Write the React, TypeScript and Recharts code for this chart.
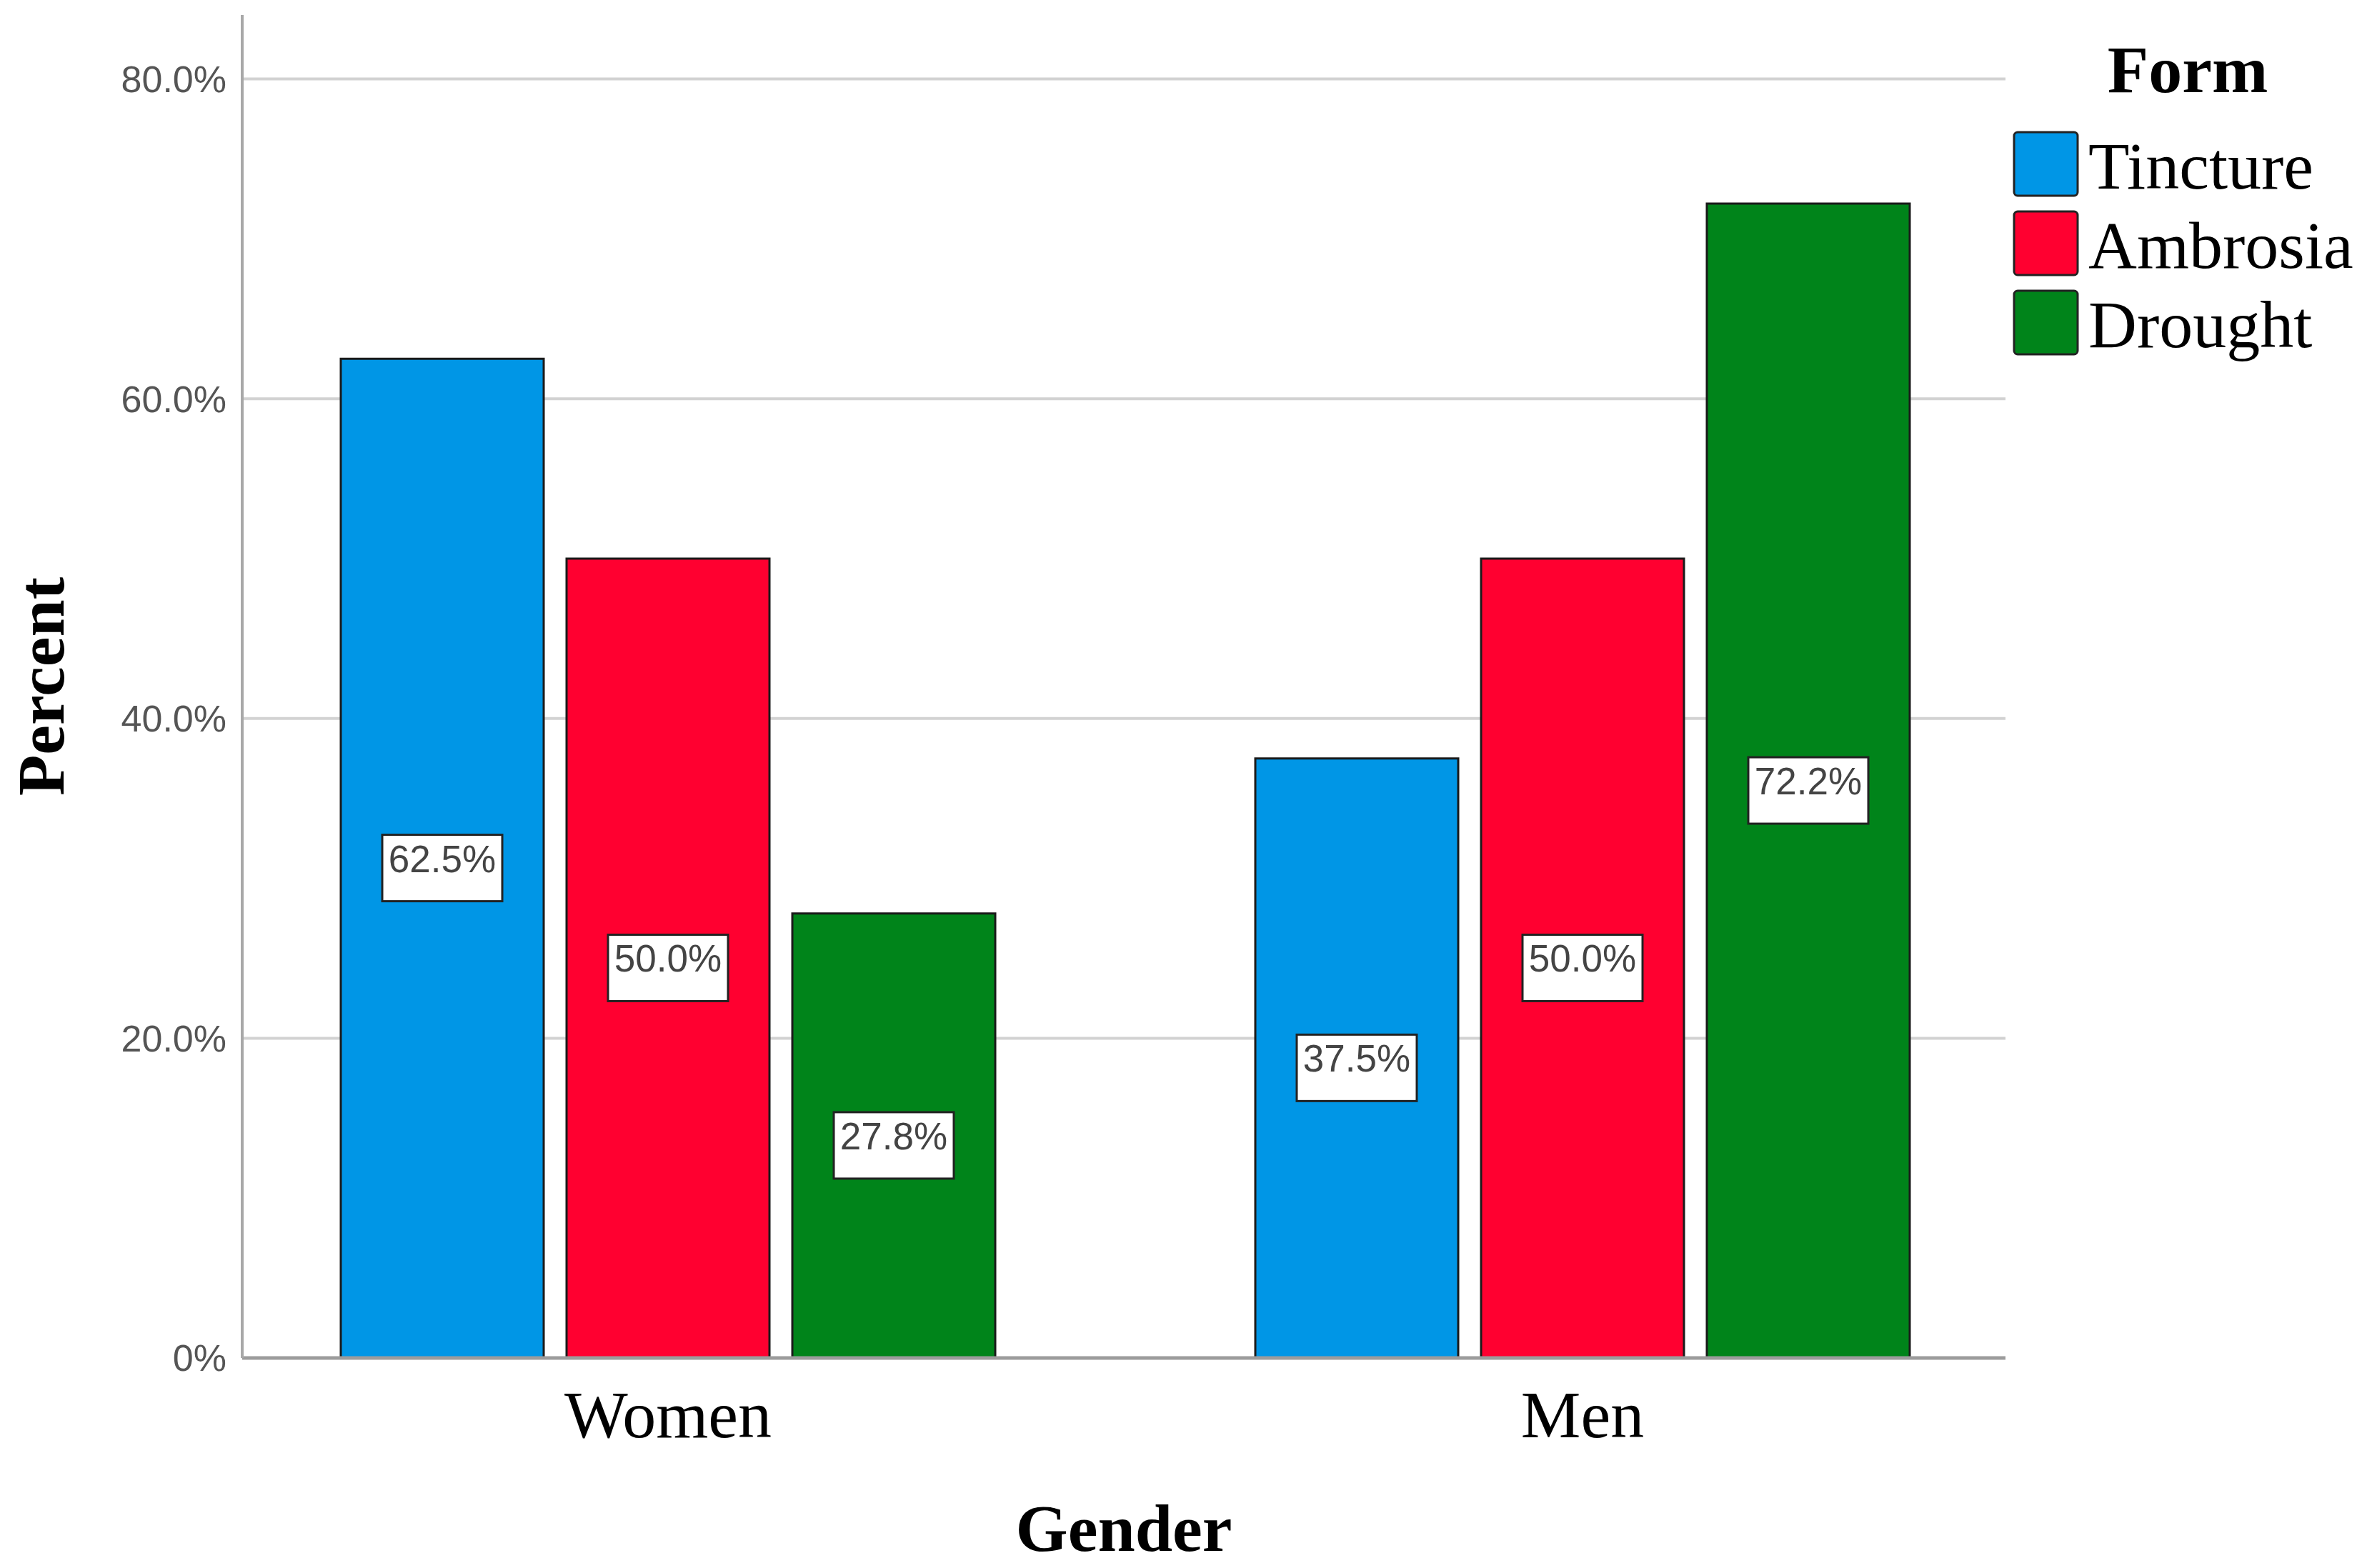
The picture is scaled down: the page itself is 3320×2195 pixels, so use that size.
import React from "react";
import { BarChart, Bar, XAxis, YAxis, CartesianGrid, LabelList } from "recharts";

const categories = ["Women", "Men"];
const seriesNames = ["Tincture", "Ambrosia", "Drought"];
const tincture = [62.5, 37.5];
const ambrosia = [50.0, 50.0];
const drought = [27.8, 72.2];
const yTicks = [0, 20, 40, 60, 80];
const yMax = 84;
const colors = ["#0096E6", "#FF0030", "#00841A"];

const data = categories.map((gender, i) => ({
  gender,
  Tincture: tincture[i],
  Ambrosia: ambrosia[i],
  Drought: drought[i],
}));

const SERIF = "'Liberation Serif', 'Times New Roman', serif";
const SANS = "'Liberation Sans', Arial, sans-serif";

function ValueBox(props: any) {
  const { x, y, width, height, value } = props;
  const cx = x + width / 2;
  const mid = y + height / 2;
  return (
    <g>
      <rect x={cx - 84} y={mid - 33} width={168} height={93} fill="#fff" stroke="#222" strokeWidth={3} />
      <text x={cx} y={mid + 19} textAnchor="middle" fontFamily={SANS} fontSize={53} fill="#444">
        {value.toFixed(1)}%
      </text>
    </g>
  );
}

function FormLegend() {
  return (
    <svg width={520} height={520} style={{ position: "absolute", left: 2800, top: 0 }}>
      <text x={262} y={129} textAnchor="middle" fontFamily={SERIF} fontWeight="bold" fontSize={94} fill="#000">
        Form
      </text>
      {seriesNames.map((name, i) => (
        <g key={name}>
          <rect x={19} y={185 + i * 111} width={89} height={89} rx={5} fill={colors[i]} stroke="#222" strokeWidth={3} />
          <text x={123} y={264 + i * 111} fontFamily={SERIF} fontSize={94} fill="#000">
            {name}
          </text>
        </g>
      ))}
    </svg>
  );
}

// grid lines only at the real ticks (no extra line at the top of the domain)
const gridRows = ({ yAxis, offset }: any) => {
  const s = yAxis?.scale;
  return yTicks.map((t) => {
    if (typeof s === "function") return s(t);
    if (s && typeof s.map === "function") return s.map(t);
    return offset.top + offset.height * (1 - t / yMax);
  });
};

export default function App() {
  return (
    <div style={{ position: "fixed", left: 0, top: 0, width: 3320, height: 2195, background: "#fff" }}>
      <BarChart
        width={3320}
        height={2195}
        data={data}
        margin={{ top: 21, right: 513, bottom: 0, left: 139 }}
        barSize={284}
        barGap={32}
      >
        <CartesianGrid
          horizontal
          vertical={false}
          stroke="#d2d2d2"
          strokeWidth={4}
          horizontalCoordinatesGenerator={gridRows}
        />
        <XAxis
          dataKey="gender"
          height={294}
          padding={{ left: -44, right: -48 }}
          axisLine={{ stroke: "#9c9c9c", strokeWidth: 5 }}
          tickLine={false}
          tickSize={0}
          tickMargin={44}
          tick={{ fontFamily: SERIF, fontSize: 94, fill: "#000" }}
          label={{
            content: (p: any) => (
              <text
                x={p.viewBox.x + p.viewBox.width / 2}
                y={2171}
                textAnchor="middle"
                fontFamily={SERIF}
                fontWeight="bold"
                fontSize={94}
                fill="#000"
              >
                Gender
              </text>
            ),
          }}
        />
        <YAxis
          width={200}
          domain={[0, yMax]}
          ticks={yTicks}
          allowDataOverflow
          axisLine={{ stroke: "#a8a8a8", strokeWidth: 4 }}
          tickLine={false}
          tickSize={0}
          tickMargin={22}
          tickFormatter={(v: number) => (v === 0 ? "0%" : `${v.toFixed(1)}%`)}
          tick={{ fontFamily: SANS, fontSize: 52, fill: "#555" }}
          label={{
            content: (p: any) => {
              const cy = p.viewBox.y + p.viewBox.height / 2;
              return (
                <text
                  x={89}
                  y={cy}
                  transform={`rotate(-90, 89, ${cy})`}
                  textAnchor="middle"
                  fontFamily={SERIF}
                  fontWeight="bold"
                  fontSize={94}
                  fill="#000"
                >
                  Percent
                </text>
              );
            },
          }}
        />
        {seriesNames.map((name, i) => (
          <Bar key={name} dataKey={name} fill={colors[i]} stroke="#1a1a1a" strokeWidth={3} isAnimationActive={false}>
            <LabelList dataKey={name} content={<ValueBox />} />
          </Bar>
        ))}
      </BarChart>
      <FormLegend />
    </div>
  );
}
